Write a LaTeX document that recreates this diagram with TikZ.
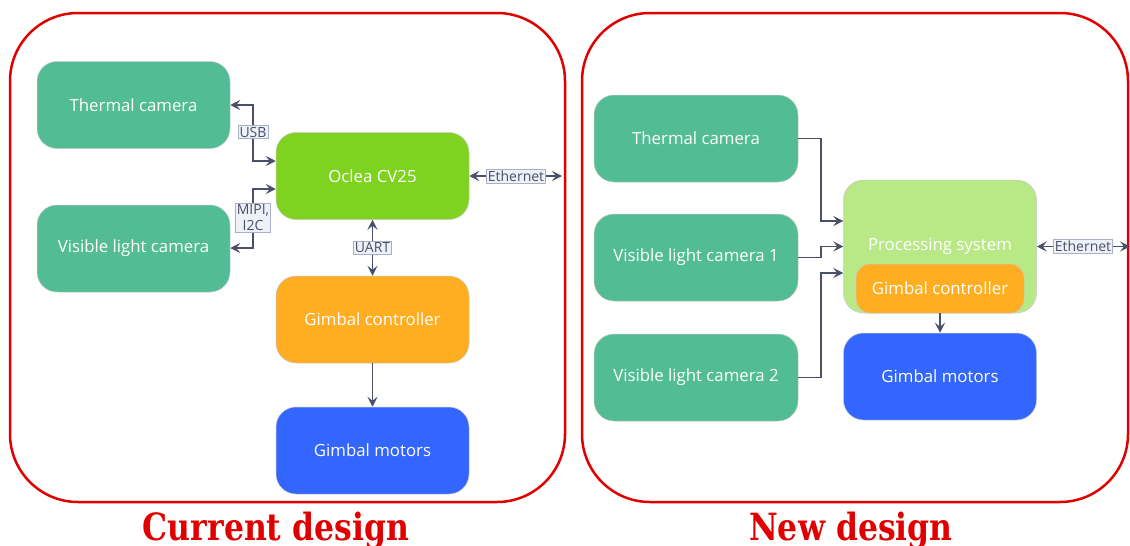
\documentclass[tikz,border=0pt]{standalone}
\usepackage{fontspec}
\setsansfont{Open Sans}
\newfontfamily\titlefont{DejaVu Serif}[BoldFeatures={FakeStretch=0.84}]
\usetikzlibrary{arrows.meta,calc}
\definecolor{teal}{HTML}{52BD94}
\definecolor{lime}{HTML}{7ED321}
\definecolor{paleLime}{HTML}{B8E986}
\definecolor{amber}{HTML}{FFAE22}
\definecolor{royal}{HTML}{3366FF}
\definecolor{frameRed}{HTML}{E00000}
\definecolor{wire}{HTML}{4A5068}
\definecolor{tagFill}{HTML}{EEF1F8}
\definecolor{tagLine}{HTML}{A9AFC4}
\definecolor{edge}{HTML}{C8C8C8}
\begin{document}
\begin{tikzpicture}[x=1pt,y=-1pt,
  blk/.style={draw=edge, line width=0.5pt, rounded corners=20pt, minimum width=193pt,
    minimum height=87pt, text=white, inner sep=0pt, font=\sffamily\fontsize{16.8}{19}\selectfont},
  tag/.style={draw=tagLine, fill=tagFill, line width=0.5pt, inner sep=1.5pt, text=wire,
    align=center, font=\sffamily\fontsize{14}{16}\selectfont},
  wirestyle/.style={draw=wire, line width=1.4pt},
  tip/.style={wirestyle, -{Stealth[length=10pt,width=10pt,inset=4pt]}},
  tips/.style={wirestyle, {Stealth[length=10pt,width=10pt,inset=4pt]}-{Stealth[length=10pt,width=10pt,inset=4pt]}},
  frame/.style={draw=frameRed, line width=2.5pt, rounded corners=68pt},
  title/.style={text=frameRed, font=\titlefont\bfseries\fontsize{37.5}{40}\selectfont}
]
\useasboundingbox (0,0) rectangle (1130,546);

% outer frames
\draw[frame] (10,13) rectangle (565,502);
\draw[frame] (582,13) rectangle (1128,502);
\node[title] (tcur) at (276,530) {Current design};
\node[title] (tnew) at (851,530) {New design};

% ---------- current design ----------
\node[blk, fill=teal] (th1) at (133.5,105) {Thermal camera};
\node[blk, fill=teal] (vl1) at (133.5,248.5) {Visible light camera};
\node[blk, fill=lime] (cv) at (372.5,176) {Oclea CV25};
\node[blk, fill=amber] (gc1) at (372.5,319.5) {Gimbal controller};
\node[blk, fill=royal] (gm1) at (372.5,450.5) {Gimbal motors};
\coordinate (eth1) at (562,176);

\draw[tips] ($(cv.west)+(0,-15)$) -| (253,105) -- (th1.east |- 0,105);
\draw[tips] ($(cv.west)+(0,13)$) -| (253,248) -- (vl1.east |- 0,248);
\draw[tips] (cv.east) -- (eth1);
\draw[tips] (cv.south) -- (gc1.north);
\draw[tip] (gc1.south) -- (gm1.north);

\node[tag] (usb) at (253,132) {USB};
\node[tag] (mipi) at (253,218) {MIPI,\\I2C};
\node[tag] (ethtag1) at (516,176) {Ethernet};
\node[tag] (uart) at (372.5,247.5) {UART};

% ---------- new design ----------
\node[blk, fill=teal, minimum width=204pt] (th2) at (696,138.5) {Thermal camera};
\node[blk, fill=teal, minimum width=204pt] (vla) at (696,257.5) {Visible light camera 1};
\node[blk, fill=teal, minimum width=204pt] (vlb) at (696,377.5) {Visible light camera 2};
\node[blk, fill=paleLime, minimum height=133pt] (ps) at (940,246.5) {};
\node[text=white, font=\sffamily\fontsize{16.8}{19}\selectfont] (pslbl) at (940,246.5) {Processing system};
\node[blk, fill=amber, minimum width=168pt, minimum height=49pt, rounded corners=14pt] (gc2) at (940,288.5) {Gimbal controller};
\node[blk, fill=royal] (gm2) at (940,376.5) {Gimbal motors};
\coordinate (eth2) at (1130,246.5);

\draw[tip] (th2.east) -- (821,138.5) |- (ps.west |- 0,221);
\draw[tip] (vla.east) -- (821,257.5) |- (ps.west |- 0,246.5);
\draw[tip] (vlb.east) -- (821,377.5) |- (ps.west |- 0,273);
\draw[tips] (ps.east) -- (eth2);
\draw[tip] (gc2.south) -- (gm2.north);
\node[tag] (ethtag2) at (1083,246.5) {Ethernet};
\end{tikzpicture}
\end{document}
